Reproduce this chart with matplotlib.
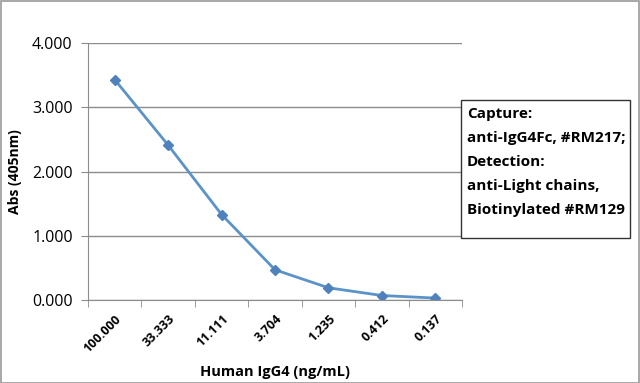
import matplotlib
matplotlib.use("Agg")
import matplotlib.pyplot as plt
from matplotlib.patches import Rectangle

categories = ["100.000", "33.333", "11.111", "3.704", "1.235", "0.412", "0.137"]
absorbance = [3.43, 2.41, 1.33, 0.47, 0.19, 0.07, 0.03]
yticks = [0.0, 1.0, 2.0, 3.0, 4.0]

plt.rcParams['font.family'] = ['Open Sans', 'DejaVu Sans']

fig = plt.figure(figsize=(6.4, 3.83), dpi=100)
fig.patch.set_facecolor('white')
fig.add_artist(Rectangle((0.001, 0.001), 0.997, 0.997, transform=fig.transFigure,
                         fill=False, edgecolor='#9a9a9a', linewidth=1.2))

ax = fig.add_axes([0.1375, 0.2167, 0.5845, 0.671])
x = list(range(len(categories)))
ax.plot(x, absorbance, color='#5B93C9', linewidth=2, marker='D', markersize=5,
        markerfacecolor='#4F81BD', markeredgecolor='#4F81BD')

ax.set_xlim(-0.5, len(categories) - 0.5)
ax.set_ylim(0, 4)
ax.set_yticks(yticks)
ax.set_yticklabels([f"{v:.3f}" for v in yticks], fontsize=11.5)
ax.grid(axis='y', color='#8c8c8c', linewidth=1)
ax.set_axisbelow(True)

ax.set_xticks(x)
ax.set_xticklabels(categories, rotation=45, ha='right', rotation_mode='anchor',
                   fontsize=9, fontweight='bold')
ax.tick_params(axis='x', which='major', length=0, pad=9)
ax.set_xticks([i - 0.5 for i in range(len(categories) + 1)], minor=True)
ax.tick_params(axis='x', which='minor', length=5, color='#8c8c8c', direction='out')
ax.tick_params(axis='y', length=5, color='#8c8c8c', direction='out', pad=6)

for s in ['top', 'right']:
    ax.spines[s].set_visible(False)
for s in ['left', 'bottom']:
    ax.spines[s].set_color('#8c8c8c')

ax.set_xlabel("Human IgG4 (ng/mL)", fontsize=10.5, fontweight='bold', labelpad=7)
ax.set_ylabel("Abs (405nm)", fontsize=10, fontweight='bold', labelpad=7)

fig.add_artist(Rectangle((461/640, 1-238/383), 169/640, 138/383, transform=fig.transFigure,
                         fill=True, facecolor='white', edgecolor='#333333', linewidth=1))
fig.text(467/640, 1-107/383,
         "Capture:\nanti-IgG4Fc, #RM217;\nDetection:\nanti-Light chains,\nBiotinylated #RM129",
         fontsize=11, fontweight='bold', va='top', ha='left', linespacing=1.9)

fig.savefig("out.png", dpi=100)
